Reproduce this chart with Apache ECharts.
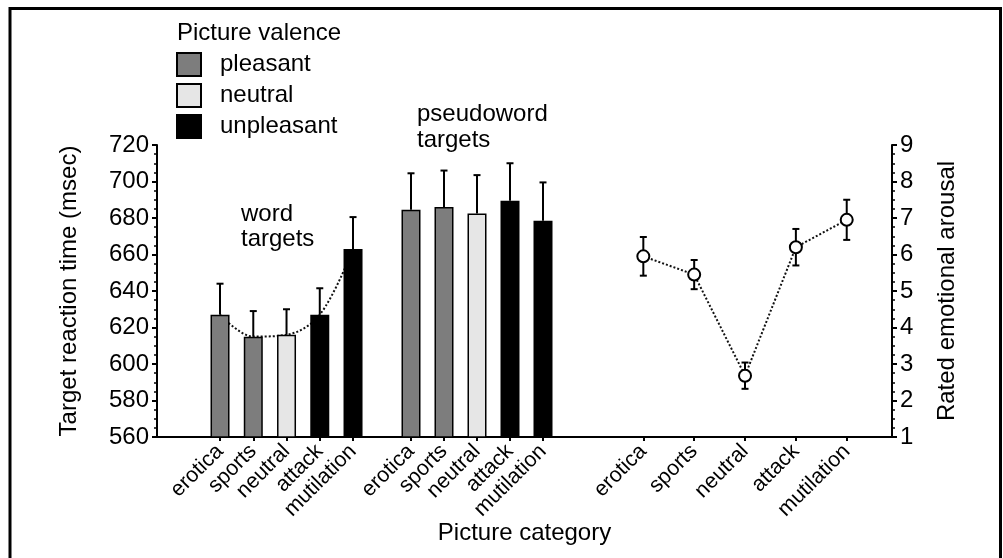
<!DOCTYPE html>
<html><head><meta charset="utf-8">
<script src="https://cdn.jsdelivr.net/npm/echarts@6/dist/echarts.min.js"></script>
<style>html,body{margin:0;padding:0;background:#fff}#c{width:1003px;height:558px}</style>
</head><body><div id="c"></div>
<script>
// ---- data ----
const categories = ['erotica', 'sports', 'neutral', 'attack', 'mutilation'];
const valence = ['pleasant', 'pleasant', 'neutral', 'unpleasant', 'unpleasant'];
const valenceNames = ['pleasant', 'neutral', 'unpleasant'];
const wordRT = [627, 615, 616, 627, 663];
const wordSE = [17, 14, 14, 14.5, 17.5];
const pseudoRT = [684.5, 686, 682.5, 689.5, 678.5];
const pseudoSE = [20, 20, 21, 20.5, 21];
const arousal = [5.95, 5.45, 2.68, 6.2, 6.95];
const arousalSE = [0.53, 0.4, 0.36, 0.5, 0.55];
const rtAxis = { min: 560, max: 720, interval: 20 };
const arousalAxis = { min: 1, max: 9, interval: 1 };

// ---- style ----
const FONT = 'Liberation Sans, Arial, Helvetica, sans-serif';
const FS = 24;
const colors = { pleasant: '#7d7d7d', neutral: '#e6e6e6', unpleasant: '#000000' };

const chart = echarts.init(document.getElementById('c'), null, { renderer: 'canvas' });

function errRender(twoSided) {
  return function (params, api) {
    const i = api.value(0), v = api.value(1), e = api.value(2);
    const top = api.coord([i, v + e]);
    const base = api.coord([i, twoSided ? v - e : v]);
    const cw = 3.5;
    const style = { stroke: '#000', lineWidth: 2, fill: null };
    const children = [
      { type: 'line', shape: { x1: top[0], y1: top[1], x2: base[0], y2: base[1] }, style },
      { type: 'line', shape: { x1: top[0] - cw, y1: top[1], x2: top[0] + cw, y2: top[1] }, style }
    ];
    if (twoSided) children.push({ type: 'line', shape: { x1: base[0] - cw, y1: base[1], x2: base[0] + cw, y2: base[1] }, style });
    return { type: 'group', children };
  };
}

const catX = (gi) => ({
  gridIndex: gi, type: 'category', data: categories,
  axisLine: { show: false },
  axisTick: { show: true, alignWithLabel: true, length: 4, lineStyle: { color: '#000', width: 2 } },
  axisLabel: { rotate: 45, fontSize: 21.5, color: '#000', margin: 11, interval: 0, fontFamily: FONT },
  splitLine: { show: false }
});
const hiddenY = (gi, ax) => ({ gridIndex: gi, type: 'value', min: ax.min, max: ax.max, interval: ax.interval, show: false, splitLine: { show: false } });

// y axis indices: 0,1 = grid 0 (left/right); grid g (1..3) -> g + 1
const yIdx = (gi) => gi + 1;

const series = [];
[[1, wordRT, wordSE], [2, pseudoRT, pseudoSE]].forEach(([gi, vals, se]) => {
  valenceNames.forEach(v => {
    series.push({
      type: 'bar', name: v, xAxisIndex: gi, yAxisIndex: yIdx(gi),
      data: vals.map((x, i) => valence[i] === v ? x : '-'),
      barWidth: 19, barGap: '-100%', z: 3,
      itemStyle: { color: colors[v], borderColor: '#000', borderWidth: 1.5 }
    });
  });
  series.push({
    type: 'custom', xAxisIndex: gi, yAxisIndex: yIdx(gi), z: 2,
    renderItem: errRender(false), encode: { x: 0, y: 1 },
    data: vals.map((x, i) => [i, x, se[i]])
  });
});
series.push({
  type: 'line', xAxisIndex: 1, yAxisIndex: yIdx(1), data: wordRT, smooth: 0.35, symbol: 'none', z: 1,
  lineStyle: { type: 'dotted', width: 2, color: '#111' }
});
series.push({
  type: 'custom', xAxisIndex: 3, yAxisIndex: yIdx(3), z: 2,
  renderItem: errRender(true), encode: { x: 0, y: 1 },
  data: arousal.map((x, i) => [i, x, arousalSE[i]])
});
series.push({
  type: 'line', xAxisIndex: 3, yAxisIndex: yIdx(3), data: arousal, z: 4,
  symbol: 'circle', symbolSize: 12,
  itemStyle: { color: '#fff', borderColor: '#000', borderWidth: 2 },
  lineStyle: { type: 'dotted', width: 2, color: '#111' }
});

const option = {
  animation: false,
  backgroundColor: '#fff',
  textStyle: { fontFamily: FONT, color: '#000' },
  grid: [
    { left: 157, right: 111, top: 145, bottom: 121 },
    { left: 203.4, width: 166.25, top: 145, bottom: 121 },
    { left: 394.5, width: 165, top: 145, bottom: 121 },
    { left: 617.9, width: 254.25, top: 145, bottom: 121 }
  ],
  xAxis: [
    {
      gridIndex: 0, type: 'value', min: 0, max: 1,
      axisLine: { show: true, onZero: false, lineStyle: { color: '#000', width: 2 } },
      axisTick: { show: false }, axisLabel: { show: false }, splitLine: { show: false },
      name: 'Picture category', nameLocation: 'middle', nameGap: 84,
      nameTextStyle: { fontSize: FS, color: '#000', fontFamily: FONT }
    },
    catX(1), catX(2), catX(3)
  ],
  yAxis: [
    {
      gridIndex: 0, type: 'value', position: 'left', min: rtAxis.min, max: rtAxis.max, interval: rtAxis.interval,
      axisLine: { show: true, lineStyle: { color: '#000', width: 2 } },
      axisTick: { show: true, length: 5, lineStyle: { color: '#000', width: 2 } },
      minorTick: { show: true, splitNumber: 4, length: 3, lineStyle: { color: '#000', width: 1.5 } },
      axisLabel: { fontSize: FS, color: '#000', margin: 8, fontFamily: FONT },
      splitLine: { show: false },
      name: 'Target reaction time (msec)', nameLocation: 'middle', nameGap: 76,
      nameTextStyle: { fontSize: FS, color: '#000', fontFamily: FONT }
    },
    {
      gridIndex: 0, type: 'value', position: 'right', min: arousalAxis.min, max: arousalAxis.max, interval: arousalAxis.interval,
      axisLine: { show: true, lineStyle: { color: '#000', width: 2 } },
      axisTick: { show: true, length: 5, lineStyle: { color: '#000', width: 2 } },
      minorTick: { show: true, splitNumber: 4, length: 3, lineStyle: { color: '#000', width: 1.5 } },
      axisLabel: { fontSize: FS, color: '#000', margin: 8, fontFamily: FONT },
      splitLine: { show: false },
      name: 'Rated emotional arousal', nameLocation: 'middle', nameGap: 43, nameRotate: 90,
      nameTextStyle: { fontSize: FS, color: '#000', fontFamily: FONT }
    },
    hiddenY(1, rtAxis), hiddenY(2, rtAxis), hiddenY(3, arousalAxis)
  ],
  legend: {
    data: valenceNames, orient: 'vertical', left: 176, top: 52, padding: 0,
    itemWidth: 24, itemHeight: 23, itemGap: 6, icon: 'rect',
    itemStyle: { borderColor: '#000', borderWidth: 2 },
    textStyle: { fontSize: FS, lineHeight: 23, color: '#000', fontFamily: FONT, padding: [0, 0, 0, 14] },
    selectedMode: false
  },
  graphic: [
    { type: 'rect', shape: { x: 10, y: 8.5, width: 990.5, height: 570 }, style: { fill: null, stroke: '#000', lineWidth: 3 }, silent: true },
    { type: 'text', x: 177, y: 21, style: { text: 'Picture valence', fontSize: FS, fontFamily: FONT, fill: '#000' } },
    { type: 'text', x: 241, y: 202, style: { text: 'word\ntargets', fontSize: FS, lineHeight: 25, fontFamily: FONT, fill: '#000' } },
    { type: 'text', x: 417, y: 101, style: { text: 'pseudoword\ntargets', fontSize: FS, lineHeight: 26, fontFamily: FONT, fill: '#000' } }
  ],
  series
};
chart.setOption(option);
</script>
</body></html>
